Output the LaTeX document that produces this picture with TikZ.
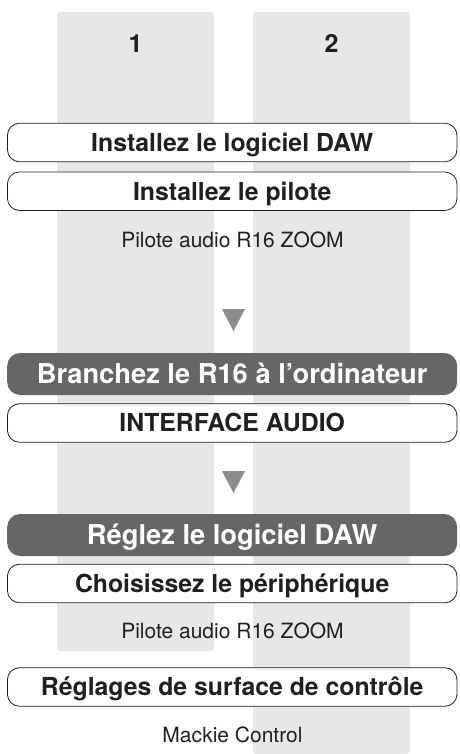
\documentclass[tikz,border=0pt]{standalone}
\usepackage{fontspec}
\setmainfont{TeX Gyre Heros}
\usetikzlibrary{shapes.geometric}

\definecolor{lanegray}{HTML}{E6E7E8}
\definecolor{bargray}{HTML}{666666}
\definecolor{markgray}{HTML}{8C8C8C}
\definecolor{inkdark}{HTML}{231F20}

\begin{document}
\begin{tikzpicture}[x=1pt, y=-1pt,
    lane/.style={fill=lanegray, rounded corners=3pt},
    lanelabel/.style={text=inkdark, text height=17.8pt, text depth=0pt, font=\bfseries\fontsize{25}{28}\selectfont},
    task/.style={rectangle, rounded corners=12pt, minimum width=449.5pt, minimum height=38.5pt, text centered, draw=inkdark, line width=0.8pt, fill=white, text=inkdark, text height=17.8pt, text depth=0pt, font=\bfseries\fontsize{24.8}{27}\selectfont},
    mainTask/.style={rectangle, rounded corners=13pt, minimum width=450pt, minimum height=42pt, text centered, fill=bargray, text=white, text height=19.6pt, text depth=0pt, font=\bfseries\fontsize{27.3}{30}\selectfont},
    note/.style={text=inkdark, text height=15.1pt, text depth=0pt, font=\fontsize{21}{24}\selectfont},
    down/.style={isosceles triangle, isosceles triangle stretches, shape border rotate=-90, minimum width=23pt, minimum height=22pt, inner sep=0pt, fill=markgray}
]
\useasboundingbox (0,0) rectangle (459,754);

% Lanes
\fill[lane] (57,12) rectangle (214,651);
\fill[lane] (253,12) rectangle (410,754);
\node[lanelabel] (lane1) at (135.5,43.5) {1};
\node[lanelabel] (lane2) at (331.5,43.5) {2};

% Install
\node[task] (install1) at (232.2,142.5) {Installez le logiciel DAW};
\node[task] (install2) at (232.2,191.2) {Installez le pilote};
\node[note] (driver1) at (232.5,239.5) {Pilote audio R16 ZOOM};
\node[down] (mark1) at (233.5,316) {};

% Connect
\node[mainTask] (connect) at (232.2,374) {Branchez le R16 à l’ordinateur};
\node[task] (audio) at (232.2,423) {INTERFACE AUDIO};
\node[down] (mark2) at (233.5,478) {};

% Setup
\node[mainTask] (setup) at (232.2,535) {Réglez le logiciel DAW};
\node[task] (device) at (232.2,583.5) {Choisissez le périphérique};
\node[note] (driver2) at (232.5,631) {Pilote audio R16 ZOOM};
\node[task] (surface) at (232.2,687) {Réglages de surface de contrôle};
\node[note] (mackie) at (232.5,735) {Mackie Control};

\end{tikzpicture}
\end{document}
